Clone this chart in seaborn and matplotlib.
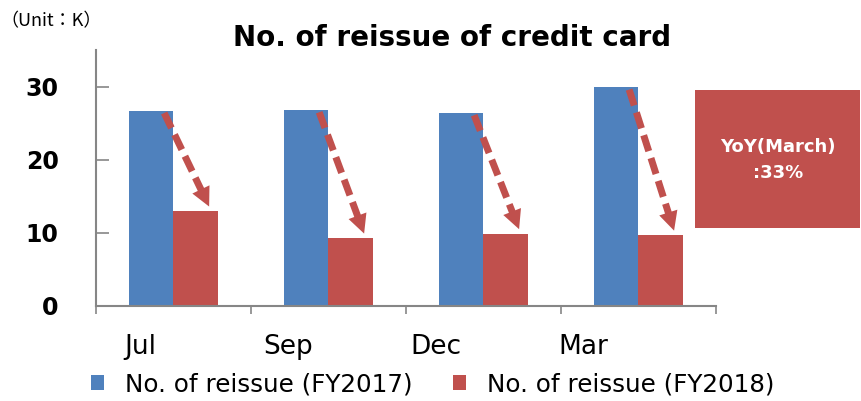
import matplotlib
matplotlib.use("Agg")
import matplotlib.pyplot as plt
import matplotlib.transforms as mtransforms
from matplotlib.patches import Patch, Rectangle, Polygon
import seaborn as sns
import pandas as pd
import numpy as np

months = ["Jul", "Sep", "Dec", "Mar"]
fy2017 = [26.7, 26.8, 26.4, 29.9]
fy2018 = [13.0, 9.3, 9.9, 9.7]
series_names = ["No. of reissue (FY2017)", "No. of reissue (FY2018)"]
yticks = [0, 10, 20, 30]
title = "No. of reissue of credit card"
unit_label = "（Unit：K）"
yoy_text = "YoY(March)\n:33%"

blue = "#4F81BD"
red = "#C0504D"

sns.set_theme(style="white")
plt.rcParams["font.family"] = ["DejaVu Sans", "Noto Sans CJK JP"]
plt.rcParams["text.color"] = "black"
plt.rcParams["xtick.color"] = "black"
plt.rcParams["ytick.color"] = "black"

df = pd.DataFrame({
    "month": months * 2,
    "value": fy2017 + fy2018,
    "series": [series_names[0]] * 4 + [series_names[1]] * 4,
})

fig = plt.figure(figsize=(8.61, 4.01), dpi=100)
ax = fig.add_axes([0.1115, 0.237, 0.72, 0.638])

sns.barplot(data=df, x="month", y="value", hue="series", order=months,
            hue_order=series_names, palette=[blue, red], width=0.57,
            gap=0, ax=ax, legend=False, saturation=1, errorbar=None,
            linewidth=0)

ax.set_xlim(-0.5, len(months) - 0.5)
ax.set_ylim(0, 35)
ax.set_xlabel("")
ax.set_ylabel("")

for s in ["top", "right"]:
    ax.spines[s].set_visible(False)
for s in ["left", "bottom"]:
    ax.spines[s].set_color("#868686")
    ax.spines[s].set_linewidth(1.5)

# y ticks
ax.set_yticks(yticks)
ax.set_yticklabels([str(t) for t in yticks], fontsize=17, fontweight="bold")
ax.tick_params(axis="y", direction="in", length=9, color="#868686", width=1.2,
               left=True, pad=27)

# x ticks: boundaries as major ticks, labels on minor
bounds = [i - 0.5 for i in range(len(months) + 1)]
ax.set_xticks(bounds)
ax.set_xticklabels([""] * len(bounds))
ax.tick_params(axis="x", which="major", direction="out", length=6,
               color="#868686", width=1.2, bottom=True)
ax.set_xticks(range(len(months)), minor=True)
ax.set_xticklabels(months, minor=True, fontsize=19)
ax.tick_params(axis="x", which="minor", length=0, pad=20)
for i, lab in enumerate(ax.get_xticklabels(minor=True)):
    off = mtransforms.ScaledTranslation((-33 - 7.3 * i) / 100, 0, fig.dpi_scale_trans)
    lab.set_transform(lab.get_transform() + off)

# dashed arrows from 2017 bar top to 2018 bar top (head computed in pixels)
head_len, head_half = 19.0, 9.5
inv = ax.transData.inverted()
for i, (a, b) in enumerate(zip(fy2017, fy2018)):
    p0 = ax.transData.transform((i - 0.06, a - 0.3))
    p1 = ax.transData.transform((i + 0.23, b + 0.6))
    d = p1 - p0
    d = d / np.hypot(*d)
    n = np.array([-d[1], d[0]])
    base = p1 - d * head_len
    shaft_end = inv.transform(base + d * 1.0)
    start = inv.transform(p0)
    ax.plot([start[0], shaft_end[0]], [start[1], shaft_end[1]], color=red, lw=5,
            linestyle=(0, (2.4, 1.05)), dash_capstyle="butt", zorder=5)
    tri = [inv.transform(p1), inv.transform(base + n * head_half),
           inv.transform(base - n * head_half)]
    ax.add_patch(Polygon(tri, closed=True, facecolor=red, edgecolor="none", zorder=6))

# title and unit
fig.text(0.525, 0.905, title, ha="center", va="center", fontsize=20,
         fontweight="bold")
fig.text(0.0, 0.948, unit_label, ha="left", va="center", fontsize=13,
         family=["Noto Sans CJK JP", "DejaVu Sans"])

# YoY box
fig.patches.append(Rectangle((695 / 861, 1 - 228 / 401), 165 / 861, 138 / 401,
                             transform=fig.transFigure, facecolor=red,
                             edgecolor="none"))
fig.text(778 / 861, 1 - 160 / 401, yoy_text, ha="center", va="center",
         fontsize=13, fontweight="bold", color="white", linespacing=1.5)

# legend
handles = [Patch(facecolor=blue, edgecolor="none"), Patch(facecolor=red, edgecolor="none")]
fig.legend(handles, series_names, loc="lower left", bbox_to_anchor=(0.08, -0.043),
           ncol=2, frameon=False, fontsize=17.7, handlelength=0.53, handleheight=0.53,
           handletextpad=0.85, columnspacing=1.65)

fig.savefig("out.png", dpi=100)
